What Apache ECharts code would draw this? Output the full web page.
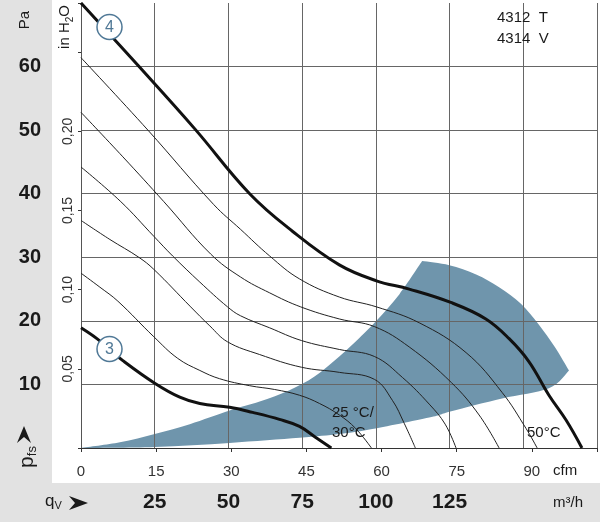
<!DOCTYPE html>
<html>
<head>
<meta charset="utf-8">
<title>4312 T / 4314 V</title>
<script src="https://cdn.jsdelivr.net/npm/echarts@6/dist/echarts.min.js"></script>
<style>
  html, body { margin: 0; padding: 0; background: #fff; }
  #chart { width: 600px; height: 522px; }
</style>
</head>
<body>
<div id="chart"></div>
<script>
// flow in m³/h, static pressure in Pa
const curve4 = [[0, 70.0], [19.3, 60.2], [38.6, 50.2], [57.2, 40.0], [71.7, 34.1], [87.6, 28.8],
  [100.2, 26.3], [111.3, 25.0], [125.4, 22.9], [137.3, 20.3], [145.2, 17.2], [151.9, 13.6],
  [158.7, 8.3], [164.5, 4.4], [169.9, 0]];
const curve3 = [[0, 18.9], [5.4, 17.2], [9.5, 15.6], [14.2, 13.75], [25.0, 10.2], [33.5, 8.0],
  [40.3, 7.0], [50.4, 6.4], [58.2, 5.6], [67.3, 4.5], [74.1, 3.4], [79.5, 1.7], [84.9, 0]];

// intermediate control curves, highest first
const speed1 = [[0, 61.4], [22.7, 50.0], [45.0, 38.3], [54.1, 34.4], [64.0, 30.2], [74.1, 26.6],
  [87.6, 23.75], [100.2, 22.2], [114.7, 19.7], [130.6, 15.0], [142.8, 8.75], [150.9, 3.1], [154.7, 0]];
const speed2 = [[0, 52.8], [14.2, 45.8], [28.1, 38.75], [44.0, 30.5], [54.1, 26.9], [64.0, 24.4],
  [74.5, 22.2], [87.6, 20.3], [99.5, 19.1], [111.3, 15.9], [125.6, 10.3], [135.0, 5.2], [141.8, 0]];
const speed3 = [[0, 44.2], [13.5, 38.75], [24.7, 33.3], [31.1, 30.2], [40.3, 26.1], [49.7, 22.2],
  [54.1, 20.8], [64.0, 18.9], [74.8, 16.9], [87.6, 15.5], [99.5, 14.4], [109.0, 11.1], [118.1, 6.9],
  [123.5, 3.75], [127.2, 0]];
const speed4 = [[0, 35.8], [9.8, 32.8], [19.6, 30.0], [24.7, 28.1], [37.2, 22.2], [43.7, 19.2],
  [49.7, 16.7], [60.6, 14.7], [74.8, 12.7], [87.6, 11.9], [99.5, 10.8], [105.6, 7.5], [109.6, 3.9],
  [113.4, 0]];
const speed5 = [[0, 27.5], [6.4, 25.3], [12.5, 23.1], [24.7, 17.5], [32.8, 14.1], [40.3, 12.2],
  [47.0, 10.9], [57.2, 9.8], [65.7, 9.2], [74.1, 8.3], [80.9, 7.0], [87.6, 5.2], [93.1, 3.1], [98.5, 0]];

// operating range (shaded), outline walked round once
const operatingRange = [[0, 0], [13.2, 0.9], [25.0, 2.2], [36.9, 3.75], [50.4, 5.9], [60.6, 7.3],
  [70.7, 9.1], [79.2, 11.25], [87.6, 14.4], [94.4, 17.3], [100.2, 20.0], [108.0, 24.2], [115.7, 29.4],
  [124.9, 28.75], [134.0, 27.3], [141.8, 25.3], [149.2, 22.7], [155.3, 19.4], [160.7, 15.9], [165.5, 12.2],
  [158.7, 9.4], [142.8, 7.8], [125.6, 5.8], [118.1, 4.8], [97.8, 2.9], [87.6, 2.2], [74.1, 1.6],
  [50.4, 0.8], [25.0, 0.16]];
// the outline has sharp corners at these points, smooth edges between them
const rangeCorners = [0, 12, 19];

const paLabels = [10, 20, 30, 40, 50, 60];
const inH2oLabels = [0.05, 0.10, 0.15, 0.20];
const cfmLabels = [0, 15, 30, 45, 60, 75, 90];
const m3hLabels = [25, 50, 75, 100, 125];

const M3H_PER_CFM = 1.69901;
const PA_PER_INH2O = 249.089;
const font = "'Liberation Sans', Arial, sans-serif";

const has = (list, v) => list.some(l => Math.abs(l - v) < 1e-6);

// catmull-rom through screen points -> svg path segments
function edgePath(pts) {
  let d = "";
  for (let i = 0; i < pts.length - 1; i++) {
    const p0 = pts[i - 1] || pts[i], p1 = pts[i], p2 = pts[i + 1], p3 = pts[i + 2] || p2;
    const c1 = [p1[0] + (p2[0] - p0[0]) / 6, p1[1] + (p2[1] - p0[1]) / 6];
    const c2 = [p2[0] - (p3[0] - p1[0]) / 6, p2[1] - (p3[1] - p1[1]) / 6];
    d += " C" + c1.join(" ") + " " + c2.join(" ") + " " + p2.join(" ");
  }
  return d;
}

const chart = echarts.init(document.getElementById("chart"));

const thin = (data) => ({
  type: "line", data: data, showSymbol: false, smooth: 0.4, silent: true, z: 3,
  lineStyle: { color: "#222", width: 1 },
});
const thick = (data) => ({
  type: "line", data: data, showSymbol: false, smooth: 0.4, silent: true, z: 4,
  lineStyle: { color: "#111", width: 3 },
});

const badge = (x, y, txt) => [
  { type: "circle", z: 60, silent: true, shape: { cx: x, cy: y, r: 12.5 }, style: { fill: "#fff", stroke: "#4f7896", lineWidth: 1.5 } },
  { type: "text", z: 61, silent: true, x: x, y: y + 1,
    style: { text: txt, align: "center", verticalAlign: "middle", fontSize: 16, fill: "#4f7896", fontFamily: font } },
];
const label = (x, y, txt, size) => ({
  type: "text", x: x, y: y, z: 50, silent: true,
  style: { text: txt, fontSize: size || 15, fill: "#1a1a1a", fontFamily: font, verticalAlign: "middle" },
});

const option = {
  animation: false,
  backgroundColor: "#fff",
  grid: { left: 81, right: 2, top: 0, bottom: 74 },
  xAxis: [
    {
      type: "value", min: 0, max: 175, interval: 25, position: "bottom",
      axisLine: { show: false }, axisTick: { show: false },
      splitLine: { show: true, lineStyle: { color: "#666", width: 1 } },
      axisLabel: {
        margin: 44, fontSize: 21, fontWeight: "bold", color: "#1a1a1a", fontFamily: font,
        formatter: (v) => (has(m3hLabels, v) ? String(v) : ""),
      },
    },
    {
      type: "value", min: 0, max: 175 / M3H_PER_CFM, interval: 15, position: "bottom",
      axisLine: { show: true, lineStyle: { color: "#333", width: 1 } },
      axisTick: { show: true, length: 4, lineStyle: { color: "#333" } },
      splitLine: { show: false },
      axisLabel: {
        margin: 16, fontSize: 15, color: "#333", fontFamily: font,
        formatter: (v) => (has(cfmLabels, v) ? String(v) : ""),
      },
    },
  ],
  yAxis: [
    {
      type: "value", min: 0, max: 70, interval: 10, position: "left",
      axisLine: { show: true, lineStyle: { color: "#555" } }, axisTick: { show: false },
      splitLine: { show: true, showMaxLine: false, lineStyle: { color: "#666", width: 1 } },
      axisLabel: {
        margin: 40, fontSize: 20, fontWeight: "bold", color: "#1a1a1a", fontFamily: font,
        formatter: (v) => (has(paLabels, v) ? String(v) : ""),
      },
    },
    {
      type: "value", min: 0, max: 70 / PA_PER_INH2O, interval: 0.05, position: "left",
      axisLine: { show: false },
      axisTick: { show: true, length: 3, lineStyle: { color: "#333" } },
      splitLine: { show: false },
      axisLabel: {
        rotate: 90, margin: 6, fontSize: 14, color: "#333", fontFamily: font,
        formatter: (v) => (has(inH2oLabels, v) ? v.toFixed(2).replace(".", ",") : ""),
      },
    },
  ],
  series: [
    {
      type: "custom", data: operatingRange, silent: true, z: -1,
      renderItem: (params, api) => {
        if (params.dataIndex !== 0) return null;
        const pts = operatingRange.map((p) => api.coord(p));
        pts.push(pts[0]);
        const ends = rangeCorners.concat([pts.length - 1]);
        let d = "M" + pts[0].join(" ");
        for (let k = 0; k < ends.length - 1; k++) {
          d += edgePath(pts.slice(ends[k], ends[k + 1] + 1));
        }
        return { type: "path", shape: { pathData: d + " Z" }, style: { fill: "#6f95ac" } };
      },
    },
    thin(speed1), thin(speed2), thin(speed3), thin(speed4), thin(speed5),
    thick(curve4), thick(curve3),
  ],
  graphic: [
    { type: "rect", z: -10, silent: true, shape: { x: 0, y: 0, width: 52, height: 483 }, style: { fill: "#e2e2e2" } },
    { type: "rect", z: -10, silent: true, shape: { x: 0, y: 483, width: 600, height: 39 }, style: { fill: "#e2e2e2" } },
    { type: "text", x: 25, y: 20, rotation: Math.PI / 2, z: 50,
      style: { text: "Pa", fontSize: 15, fill: "#1a1a1a", fontFamily: font, align: "center", verticalAlign: "middle" } },
    { type: "text", x: 65, y: 27, rotation: Math.PI / 2, z: 50,
      style: { text: "in H{sub|2}O", fontSize: 15, lineHeight: 20, fill: "#1a1a1a", fontFamily: font, align: "center", verticalAlign: "middle",
        rich: { sub: { fontSize: 10, lineHeight: 10, verticalAlign: "bottom", fontFamily: font, fill: "#1a1a1a" } } } },
    { type: "polygon", z: 50, shape: { points: [[24, 426], [17, 443], [24, 437], [31, 443]] }, style: { fill: "#1a1a1a" } },
    { type: "text", x: 27, y: 457, rotation: Math.PI / 2, z: 50,
      style: { text: "p{sub|fs}", fontSize: 21, lineHeight: 24, fill: "#1a1a1a", fontFamily: font, align: "center", verticalAlign: "middle",
        rich: { sub: { fontSize: 13, lineHeight: 13, verticalAlign: "bottom", fontFamily: font, fill: "#1a1a1a" } } } },
    { type: "text", x: 45, y: 501, z: 50,
      style: { text: "q{sub|V}", fontSize: 17, lineHeight: 20, fill: "#1a1a1a", fontFamily: font, verticalAlign: "middle",
        rich: { sub: { fontSize: 11, lineHeight: 11, verticalAlign: "bottom", fontFamily: font, fill: "#1a1a1a" } } } },
    { type: "polygon", z: 50, shape: { points: [[88, 503], [69, 496], [75, 503], [69, 510]] }, style: { fill: "#1a1a1a" } },
    label(553, 471, "cfm", 15),
    label(553, 503, "m³/h", 15),
    label(497, 18, "4312  T", 15),
    label(497, 39, "4314  V", 15),
    label(332, 413, "25 °C/", 15),
    label(332, 433, "30°C", 15),
    label(527, 433, "50°C", 15),
  ].concat(badge(109.5, 27, "4"), badge(109.5, 349, "3")),
};

chart.setOption(option);
</script>
</body>
</html>
